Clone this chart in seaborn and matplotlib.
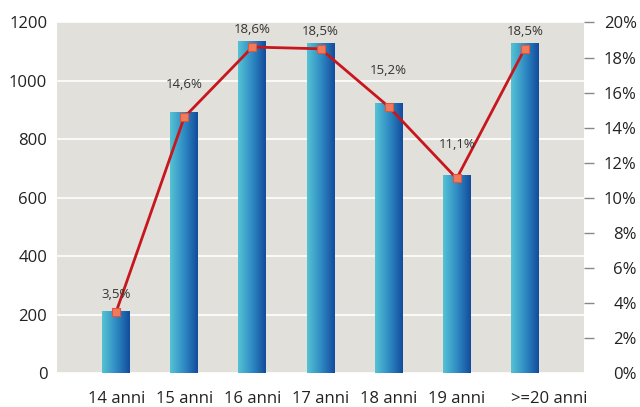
import numpy as np
import matplotlib
matplotlib.use("Agg")
import matplotlib.pyplot as plt
import matplotlib.transforms as mtransforms
import seaborn as sns

categories = ["14 anni", "15 anni", "16 anni", "17 anni", "18 anni", "19 anni", ">=20 anni"]
counts = [212, 893, 1136, 1129, 926, 677, 1131]
percents = [3.5, 14.6, 18.6, 18.5, 15.2, 11.1, 18.5]
left_ticks = [0, 200, 400, 600, 800, 1000, 1200]
right_ticks = [0, 2, 4, 6, 8, 10, 12, 14, 16, 18, 20]

# label vertical offsets (points) above markers
label_offsets = [8, 19, 8, 8, 21, 20, 8]

sns.set_theme(style="white")
plt.rcParams["font.family"] = ["Open Sans", "DejaVu Sans"]

fig = plt.figure(figsize=(6.4, 4.07), dpi=100)
ax = fig.add_axes([57 / 640, (407 - 373) / 407, 527 / 640, 350.5 / 407])
ax.set_facecolor("#e1e0da")

sns.barplot(x=categories, y=counts, ax=ax, width=0.41, color="#2a7fbf",
            linewidth=0, saturation=1, zorder=2)

# gradient fill for bars
grad = np.linspace(0, 1, 256).reshape(1, -1)
cmap = matplotlib.colors.LinearSegmentedColormap.from_list(
    "bar", ["#55c3d3", "#2f8cc4", "#124b9c"])
for p in ax.patches:
    x0, y0 = p.get_x(), p.get_y()
    w, h = p.get_width(), p.get_height()
    im = ax.imshow(grad, extent=[x0, x0 + w, y0, y0 + h], aspect="auto",
                   cmap=cmap, zorder=3, interpolation="bilinear")
    im.set_clip_path(p)

ax.set_xlim(-0.87, 6.87)
ax.set_ylim(0, 1200)
ax.set_yticks(left_ticks)
ax.set_yticklabels([str(t) for t in left_ticks])
ax.yaxis.grid(True, color="white", linewidth=1.2, zorder=1)
ax.set_axisbelow(True)
ax.tick_params(axis="y", length=0, pad=7, labelsize=12, labelcolor="#222222")
ax.tick_params(axis="x", length=0, pad=13, labelsize=12, labelcolor="#222222")
ax.set_xlabel("")
ax.set_ylabel("")
for s in ax.spines.values():
    s.set_visible(False)

ax2 = ax.twinx()
sns.pointplot(x=categories, y=percents, ax=ax2, color="#c8161e",
              markers="s", linestyles="-", linewidth=2,
              markersize=6, markerfacecolor="#f07a5c", markeredgecolor="#de5640",
              markeredgewidth=0.8, zorder=5)
ax2.set_xlim(-0.87, 6.87)
ax2.set_ylim(0, 20)
ax2.set_yticks(right_ticks)
ax2.set_yticklabels([f"{t}%" for t in right_ticks])
ax2.set_ylabel("")
ax2.set_xlabel("")
ax2.tick_params(axis="y", length=7, width=1, color="#888888", pad=31,
                labelsize=12, labelcolor="#222222", right=True)
for lab in ax2.get_yticklabels():
    lab.set_horizontalalignment("right")
ax2.yaxis.get_major_ticks()[0].tick2line.set_visible(False)
for s in ax2.spines.values():
    s.set_visible(False)

# nudge the last category label right, as in the reference
last = ax.get_xticklabels()[-1]
last.set_transform(last.get_transform() +
                   mtransforms.ScaledTranslation(24 / 100, 0, fig.dpi_scale_trans))

for i, (v, off) in enumerate(zip(percents, label_offsets)):
    ax2.annotate(f"{v:.1f}%".replace(".", ","), (i, v), xytext=(0, off),
                 textcoords="offset points", ha="center", va="bottom",
                 fontsize=9.5, color="#333333", zorder=6)

fig.savefig("out.png", dpi=100)
